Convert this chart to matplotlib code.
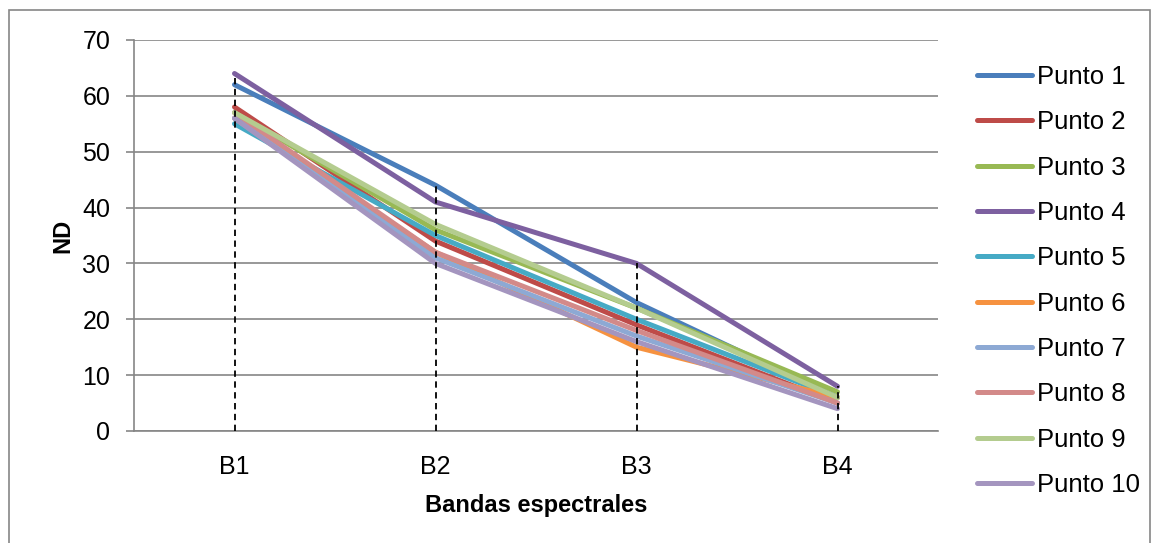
import numpy as np
import matplotlib
matplotlib.use("Agg")
from matplotlib import pyplot as plt
from matplotlib.patches import Rectangle

plt.rcParams['font.family'] = ['Liberation Sans', 'DejaVu Sans']

bandas = ["B1", "B2", "B3", "B4"]
p1 = [62, 44, 23, 6]
p2 = [58, 34, 19, 5]
p3 = [57, 36, 22, 7]
p4 = [64, 41, 30, 8]
p5 = [55, 35, 20, 6]
p6 = [56, 32, 15, 6]
p7 = [56, 31, 17, 5]
p8 = [57, 32, 18, 5]
p9 = [57, 37, 22, 6]
p10 = [56, 30, 16, 4]
series = [p1, p2, p3, p4, p5, p6, p7, p8, p9, p10]
nombres = ["Punto %d" % (i + 1) for i in range(10)]
colores = ["#4A7EBB", "#BE4B48", "#98B954", "#7D60A0", "#46AAC5",
           "#F69240", "#8DA9D4", "#D38A89", "#B4CC8F", "#A495BF"]

fig = plt.figure(figsize=(11.57, 5.43), dpi=100)
ax = fig.add_axes([134/1157, 1-431/543, (938-134)/1157, (431-40)/543])

x = np.arange(1, len(bandas)+1)
for vals, nom, c in zip(series, nombres, colores):
    ax.plot(x, vals, color=c, lw=3.6, label=nom, solid_capstyle="round", zorder=3)

tops = np.max(np.array(series), axis=0)
ax.vlines(x, 0, tops, colors="black", linestyles=(0, (3.5, 2.5)), lw=1.3, zorder=4)

ax.set_xlim(0.5, 4.5)
ax.set_ylim(0, 70)
ax.set_yticks(np.arange(0, 71, 10))
ax.set_xticks(x)
ax.set_xticklabels(bandas)
ax.yaxis.grid(True, color="#868686", lw=1.2)
ax.set_axisbelow(True)
for s in ["top", "right"]:
    ax.spines[s].set_visible(False)
for s in ["left", "bottom"]:
    ax.spines[s].set_color("#868686")
    ax.spines[s].set_linewidth(1.2)
ax.tick_params(axis="y", length=6, color="#868686", width=1.2, labelsize=18, pad=11)
ax.tick_params(axis="x", length=0, labelsize=18, pad=17)
ax.set_xlabel("Bandas espectrales", fontsize=17, fontweight="bold", labelpad=11)
ax.set_ylabel("ND", fontsize=17, fontweight="bold", labelpad=6)

fig.legend(loc="upper left", bbox_to_anchor=(977/1157, 1-65/543), frameon=False,
           fontsize=18.5, handlelength=2.15, handletextpad=0.2, labelspacing=0.83,
           borderpad=0, borderaxespad=0)

fig.patches.append(Rectangle((9/1157, -0.05), (1150-9)/1157, 1.05-10/543,
                             transform=fig.transFigure, fill=False,
                             edgecolor="#868686", lw=1.2))

fig.savefig("out.png", dpi=100)
